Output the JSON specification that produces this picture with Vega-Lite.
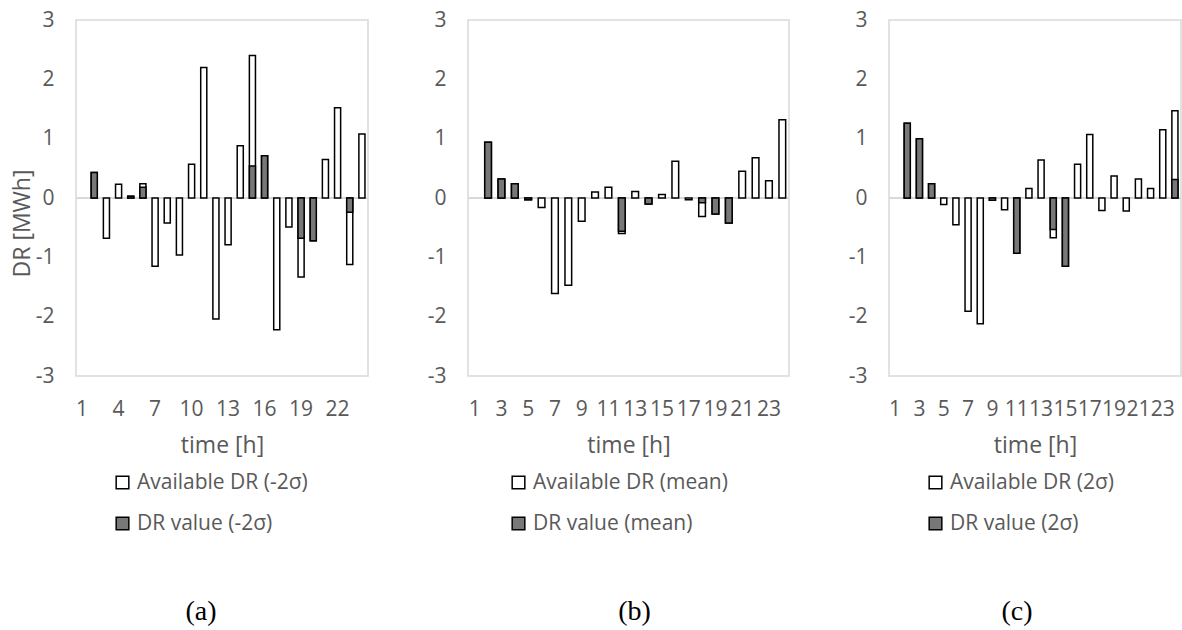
{
  "$schema": "https://vega.github.io/schema/vega-lite/v6.json",
  "autosize": "pad",
  "padding": {"left": 10, "top": 8, "right": 0, "bottom": 0},
  "bounds": "flush",
  "spacing": 100,
  "background": "white",
  "datasets": {
    "a": [
      {"hour": 2, "series": "Available DR (-2σ)", "value": 0.43},
      {"hour": 3, "series": "Available DR (-2σ)", "value": -0.68},
      {"hour": 4, "series": "Available DR (-2σ)", "value": 0.23},
      {"hour": 5, "series": "Available DR (-2σ)", "value": 0.03},
      {"hour": 6, "series": "Available DR (-2σ)", "value": 0.24},
      {"hour": 7, "series": "Available DR (-2σ)", "value": -1.15},
      {"hour": 8, "series": "Available DR (-2σ)", "value": -0.42},
      {"hour": 9, "series": "Available DR (-2σ)", "value": -0.96},
      {"hour": 10, "series": "Available DR (-2σ)", "value": 0.57},
      {"hour": 11, "series": "Available DR (-2σ)", "value": 2.2},
      {"hour": 12, "series": "Available DR (-2σ)", "value": -2.04},
      {"hour": 13, "series": "Available DR (-2σ)", "value": -0.79},
      {"hour": 14, "series": "Available DR (-2σ)", "value": 0.88},
      {"hour": 15, "series": "Available DR (-2σ)", "value": 2.4},
      {"hour": 16, "series": "Available DR (-2σ)", "value": 0.71},
      {"hour": 17, "series": "Available DR (-2σ)", "value": -2.22},
      {"hour": 18, "series": "Available DR (-2σ)", "value": -0.49},
      {"hour": 19, "series": "Available DR (-2σ)", "value": -1.33},
      {"hour": 20, "series": "Available DR (-2σ)", "value": -0.72},
      {"hour": 21, "series": "Available DR (-2σ)", "value": 0.65},
      {"hour": 22, "series": "Available DR (-2σ)", "value": 1.52},
      {"hour": 23, "series": "Available DR (-2σ)", "value": -1.12},
      {"hour": 24, "series": "Available DR (-2σ)", "value": 1.08},
      {"hour": 2, "series": "DR value (-2σ)", "value": 0.43},
      {"hour": 5, "series": "DR value (-2σ)", "value": 0.03},
      {"hour": 6, "series": "DR value (-2σ)", "value": 0.18},
      {"hour": 15, "series": "DR value (-2σ)", "value": 0.54},
      {"hour": 16, "series": "DR value (-2σ)", "value": 0.71},
      {"hour": 19, "series": "DR value (-2σ)", "value": -0.68},
      {"hour": 20, "series": "DR value (-2σ)", "value": -0.72},
      {"hour": 23, "series": "DR value (-2σ)", "value": -0.24}
    ],
    "b": [
      {"hour": 2, "series": "Available DR (mean)", "value": 0.94},
      {"hour": 3, "series": "Available DR (mean)", "value": 0.32},
      {"hour": 4, "series": "Available DR (mean)", "value": 0.24},
      {"hour": 5, "series": "Available DR (mean)", "value": -0.03},
      {"hour": 6, "series": "Available DR (mean)", "value": -0.16},
      {"hour": 7, "series": "Available DR (mean)", "value": -1.61},
      {"hour": 8, "series": "Available DR (mean)", "value": -1.47},
      {"hour": 9, "series": "Available DR (mean)", "value": -0.39},
      {"hour": 10, "series": "Available DR (mean)", "value": 0.1},
      {"hour": 11, "series": "Available DR (mean)", "value": 0.18},
      {"hour": 12, "series": "Available DR (mean)", "value": -0.6},
      {"hour": 13, "series": "Available DR (mean)", "value": 0.11},
      {"hour": 14, "series": "Available DR (mean)", "value": -0.1},
      {"hour": 15, "series": "Available DR (mean)", "value": 0.06},
      {"hour": 16, "series": "Available DR (mean)", "value": 0.62},
      {"hour": 17, "series": "Available DR (mean)", "value": -0.03},
      {"hour": 18, "series": "Available DR (mean)", "value": -0.31},
      {"hour": 19, "series": "Available DR (mean)", "value": -0.27},
      {"hour": 20, "series": "Available DR (mean)", "value": -0.42},
      {"hour": 21, "series": "Available DR (mean)", "value": 0.45},
      {"hour": 22, "series": "Available DR (mean)", "value": 0.68},
      {"hour": 23, "series": "Available DR (mean)", "value": 0.29},
      {"hour": 24, "series": "Available DR (mean)", "value": 1.32},
      {"hour": 2, "series": "DR value (mean)", "value": 0.94},
      {"hour": 3, "series": "DR value (mean)", "value": 0.32},
      {"hour": 4, "series": "DR value (mean)", "value": 0.24},
      {"hour": 5, "series": "DR value (mean)", "value": -0.03},
      {"hour": 12, "series": "DR value (mean)", "value": -0.56},
      {"hour": 14, "series": "DR value (mean)", "value": -0.1},
      {"hour": 18, "series": "DR value (mean)", "value": -0.08},
      {"hour": 19, "series": "DR value (mean)", "value": -0.27},
      {"hour": 20, "series": "DR value (mean)", "value": -0.42}
    ],
    "c": [
      {"hour": 2, "series": "Available DR (2σ)", "value": 1.26},
      {"hour": 3, "series": "Available DR (2σ)", "value": 1.0},
      {"hour": 4, "series": "Available DR (2σ)", "value": 0.24},
      {"hour": 5, "series": "Available DR (2σ)", "value": -0.11},
      {"hour": 6, "series": "Available DR (2σ)", "value": -0.45},
      {"hour": 7, "series": "Available DR (2σ)", "value": -1.91},
      {"hour": 8, "series": "Available DR (2σ)", "value": -2.12},
      {"hour": 9, "series": "Available DR (2σ)", "value": -0.04},
      {"hour": 10, "series": "Available DR (2σ)", "value": -0.2},
      {"hour": 11, "series": "Available DR (2σ)", "value": -0.93},
      {"hour": 12, "series": "Available DR (2σ)", "value": 0.16},
      {"hour": 13, "series": "Available DR (2σ)", "value": 0.64},
      {"hour": 14, "series": "Available DR (2σ)", "value": -0.67},
      {"hour": 15, "series": "Available DR (2σ)", "value": -1.15},
      {"hour": 16, "series": "Available DR (2σ)", "value": 0.57},
      {"hour": 17, "series": "Available DR (2σ)", "value": 1.07},
      {"hour": 18, "series": "Available DR (2σ)", "value": -0.21},
      {"hour": 19, "series": "Available DR (2σ)", "value": 0.37},
      {"hour": 20, "series": "Available DR (2σ)", "value": -0.22},
      {"hour": 21, "series": "Available DR (2σ)", "value": 0.32},
      {"hour": 22, "series": "Available DR (2σ)", "value": 0.16},
      {"hour": 23, "series": "Available DR (2σ)", "value": 1.15},
      {"hour": 24, "series": "Available DR (2σ)", "value": 1.47},
      {"hour": 2, "series": "DR value (2σ)", "value": 1.26},
      {"hour": 3, "series": "DR value (2σ)", "value": 1.0},
      {"hour": 4, "series": "DR value (2σ)", "value": 0.24},
      {"hour": 9, "series": "DR value (2σ)", "value": -0.04},
      {"hour": 11, "series": "DR value (2σ)", "value": -0.93},
      {"hour": 14, "series": "DR value (2σ)", "value": -0.53},
      {"hour": 15, "series": "DR value (2σ)", "value": -1.15},
      {"hour": 24, "series": "DR value (2σ)", "value": 0.31}
    ]
  },
  "hconcat": [
    {
      "width": 292,
      "height": 356,
      "title": {"text": "(a)", "dx": -21},
      "data": {"name": "a"},
      "layer": [
        {"mark": {"type": "rule", "color": "#d9d9d9", "strokeWidth": 1.5}, "encoding": {"y": {"datum": 0, "type": "quantitative", "scale": {"domain": [-3, 3], "nice": false}, "axis": {"values": [-3,-2,-1,0,1,2,3], "labelExpr": "'' + datum.value", "title": "DR [MWh]", "titleY": 203}}}},
        {
          "mark": {"type": "bar", "stroke": "black", "strokeWidth": 1.5},
          "encoding": {
            "x": {"field": "hour", "type": "ordinal", "scale": {"domain": [1,2,3,4,5,6,7,8,9,10,11,12,13,14,15,16,17,18,19,20,21,22,23,24], "paddingInner": 0.5, "paddingOuter": 0.25}, "axis": {"values": [1,4,7,10,13,16,19,22], "title": "time [h]"}},
            "y": {"field": "value", "type": "quantitative", "stack": null, "scale": {"domain": [-3, 3], "nice": false}, "axis": {"values": [-3,-2,-1,0,1,2,3], "labelExpr": "'' + datum.value", "title": "DR [MWh]", "titleY": 203}},
            "color": {"field": "series", "type": "nominal", "scale": {"range": ["white", "#787878"]}, "legend": {"orient": "none", "legendX": 36, "legendY": 452}}
          }
        }
      ]
    },
    {
      "width": 321,
      "height": 356,
      "title": {"text": "(b)", "dx": 6},
      "data": {"name": "b"},
      "layer": [
        {"mark": {"type": "rule", "color": "#d9d9d9", "strokeWidth": 1.5}, "encoding": {"y": {"datum": 0, "type": "quantitative", "scale": {"domain": [-3, 3], "nice": false}, "axis": {"values": [-3,-2,-1,0,1,2,3], "labelExpr": "'' + datum.value", "title": null}}}},
        {
          "mark": {"type": "bar", "stroke": "black", "strokeWidth": 1.5},
          "encoding": {
            "x": {"field": "hour", "type": "ordinal", "scale": {"domain": [1,2,3,4,5,6,7,8,9,10,11,12,13,14,15,16,17,18,19,20,21,22,23,24], "paddingInner": 0.5, "paddingOuter": 0.25}, "axis": {"values": [1,3,5,7,9,11,13,15,17,19,21,23], "title": "time [h]"}},
            "y": {"field": "value", "type": "quantitative", "stack": null, "scale": {"domain": [-3, 3], "nice": false}, "axis": {"values": [-3,-2,-1,0,1,2,3], "labelExpr": "'' + datum.value", "title": null}},
            "color": {"field": "series", "type": "nominal", "scale": {"range": ["white", "#787878"]}, "legend": {"orient": "none", "legendX": 40, "legendY": 452}}
          }
        }
      ]
    },
    {
      "width": 292,
      "height": 356,
      "title": {"text": "(c)", "dx": -18},
      "data": {"name": "c"},
      "layer": [
        {"mark": {"type": "rule", "color": "#d9d9d9", "strokeWidth": 1.5}, "encoding": {"y": {"datum": 0, "type": "quantitative", "scale": {"domain": [-3, 3], "nice": false}, "axis": {"values": [-3,-2,-1,0,1,2,3], "labelExpr": "'' + datum.value", "title": null}}}},
        {
          "mark": {"type": "bar", "stroke": "black", "strokeWidth": 1.5},
          "encoding": {
            "x": {"field": "hour", "type": "ordinal", "scale": {"domain": [1,2,3,4,5,6,7,8,9,10,11,12,13,14,15,16,17,18,19,20,21,22,23,24], "paddingInner": 0.5, "paddingOuter": 0.25}, "axis": {"values": [1,3,5,7,9,11,13,15,17,19,21,23], "title": "time [h]"}},
            "y": {"field": "value", "type": "quantitative", "stack": null, "scale": {"domain": [-3, 3], "nice": false}, "axis": {"values": [-3,-2,-1,0,1,2,3], "labelExpr": "'' + datum.value", "title": null}},
            "color": {"field": "series", "type": "nominal", "scale": {"range": ["white", "#787878"]}, "legend": {"orient": "none", "legendX": 36, "legendY": 452}}
          }
        }
      ]
    }
  ],
  "resolve": {"scale": {"color": "independent", "y": "independent", "x": "independent"}, "legend": {"color": "independent"}},
  "config": {
    "view": {"stroke": "#d9d9d9", "strokeWidth": 1.5},
    "axis": {
      "grid": false, "ticks": false, "domain": false,
      "labelFont": "Open Sans", "labelFontSize": 21, "labelColor": "#595959",
      "titleFont": "Open Sans", "titleFontSize": 23, "titleColor": "#595959", "titleFontWeight": "normal",
      "labelPadding": 22
    },
    "axisX": {"labelAngle": 0, "labelOverlap": false, "labelFlush": false, "titlePadding": 15},
    "axisY": {"titlePadding": 1},
    "legend": {
      "title": null, "labelFont": "Open Sans", "labelFontSize": 21, "labelColor": "#595959", "labelLimit": 400,
      "symbolType": "square", "symbolSize": 160, "symbolStrokeWidth": 1.5, "symbolStrokeColor": "black",
      "rowPadding": 19, "labelOffset": 4, "padding": 0, "direction": "vertical"
    },
    "title": {"orient": "bottom", "anchor": "middle", "font": "Liberation Serif", "fontSize": 28, "color": "black", "fontWeight": "normal", "offset": 64}
  }
}
